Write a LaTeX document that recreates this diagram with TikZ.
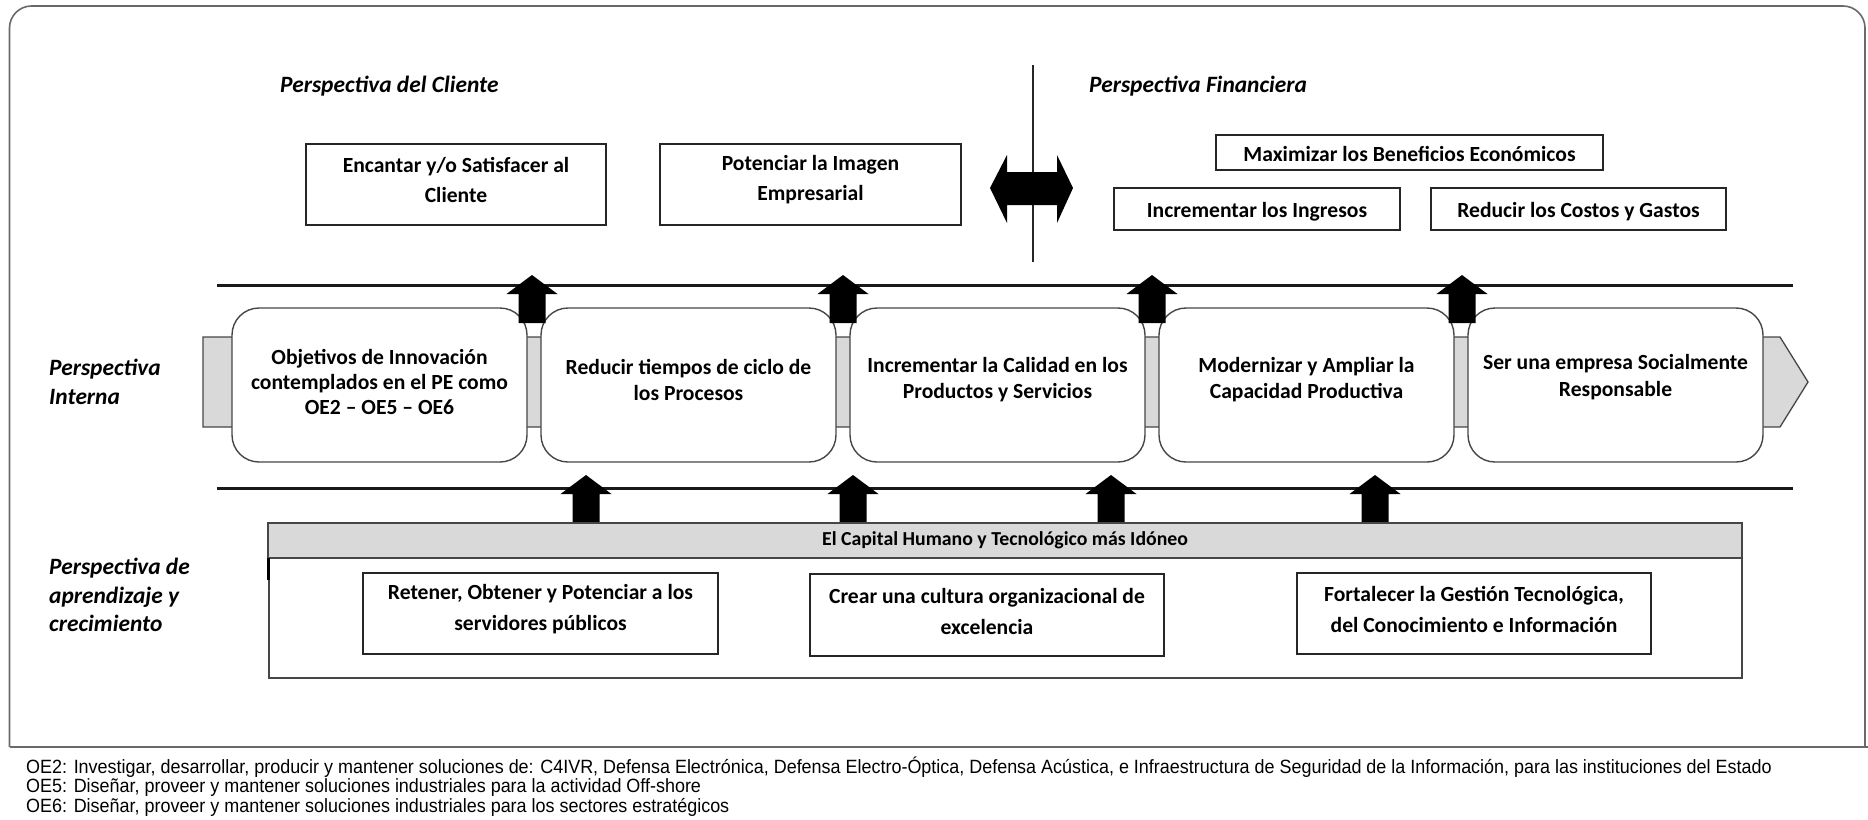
\documentclass[tikz,border=0pt]{standalone}
\usepackage{fontspec}
\setmainfont{Carlito}
\newfontfamily\notefont[FakeStretch=0.935]{Liberation Sans}
\definecolor{bandgray}{RGB}{217,217,217}
\definecolor{framegray}{RGB}{105,105,105}
\definecolor{edgegray}{RGB}{70,70,70}
\tikzset{
  hdr/.style={font=\bfseries\itshape\fontsize{23.4}{28.5}\selectfont, inner sep=0, align=left, anchor=west},
  boxtxt/.style={font=\bfseries\fontsize{21.6}{30}\selectfont, align=center, inner sep=0},
  lowtxt/.style={font=\bfseries\fontsize{21.6}{31}\selectfont, align=center, inner sep=0},
  roundtxt/.style={font=\bfseries\fontsize{21.6}{26}\selectfont, align=center, inner sep=0},
  plainbox/.style={draw=black!85, line width=1.6, fill=white, inner sep=0},
  procbox/.style={draw=edgegray, line width=1.4, fill=white, rounded corners=27,
    minimum width=295, minimum height=154, inner sep=0},
  mainline/.style={line width=3, black!90},
  notetxt/.style={font=\notefont\fontsize{19.2}{20}\selectfont, inner sep=0, anchor=west},
  pics/blockup/.style={code={
    \fill[black] (-13.5,48) -- (-13.5,19) -- (-25.5,19) -- (0,0) -- (25.5,19)
      -- (13.5,19) -- (13.5,48) -- cycle;}}
}
\begin{document}
\begin{tikzpicture}[x=1pt, y=-1pt]
\useasboundingbox (0,0) rectangle (1868,819);

% outer frame and footnote separator
\draw[framegray, line width=1.6, rounded corners=22] (9.5,747) -- (9.5,6) -- (1865,6) -- (1865,747);
\draw[framegray, line width=1.6] (9.5,747) -- (1868,747);

% perspective titles
\node[hdr] (pcli) at (280,86.5) {Perspectiva del Cliente};
\node[hdr] (pfin) at (1089,86.5) {Perspectiva Financiera};
\node[hdr] (pint) at (49,382) {Perspectiva\\Interna};
\node[hdr] (papr) at (49,595) {Perspectiva de\\aprendizaje y\\crecimiento};

% customer objectives
\node[plainbox, minimum width=300, minimum height=81] (enc) at (456,184.5) {};
\node[boxtxt] (enct) at ([yshift=5]enc.center) {Encantar y/o Satisfacer al\\Cliente};
\node[plainbox, minimum width=301, minimum height=81] (pot) at (810.5,184.5) {};
\node[boxtxt] (pott) at ([yshift=5]pot.center) {Potenciar la Imagen\\Empresarial};

% financial objectives
\node[plainbox, minimum width=387, minimum height=35] (max) at (1409.5,152.5) {};
\node[boxtxt] (maxt) at ([yshift=-1.5]max.center) {Maximizar los Beneficios Económicos};
\node[plainbox, minimum width=286, minimum height=42] (ing) at (1257,209) {};
\node[boxtxt] (ingt) at ([yshift=-2.5]ing.center) {Incrementar los Ingresos};
\node[plainbox, minimum width=295, minimum height=42] (cos) at (1578.5,209) {};
\node[boxtxt] (cost) at ([yshift=-2.5]cos.center) {Reducir los Costos y Gastos};

% divider between customer and financial views, with the two-way arrow
\coordinate (divtop) at (1033,65);
\coordinate (divbot) at (1033,262);
\draw[line width=2, black!85] (divtop) -- (divbot);
\fill[black] (990,188) -- (1007,155) -- (1007,172) -- (1057,172) -- (1057,155) -- (1073,188)
  -- (1057,223) -- (1057,205) -- (1007,205) -- (1007,223) -- cycle;

% horizontal rules around the internal perspective
\coordinate (ruleAl) at (217,285);
\coordinate (ruleAr) at (1793,285);
\coordinate (ruleBl) at (217,488);
\coordinate (ruleBr) at (1793,488);
\draw[mainline] (ruleAl) -- (ruleAr);
\draw[mainline] (ruleBl) -- (ruleBr);

% process band
\fill[bandgray, draw=edgegray, line width=1.3] (203,337) -- (1780,337) -- (1808,382) -- (1780,427) -- (203,427) -- cycle;

% internal process objectives
\node[procbox] (ri1) at (379.5,385) {};
\node[procbox] (ri2) at (688.5,385) {};
\node[procbox] (ri3) at (997.5,385) {};
\node[procbox] (ri4) at (1306.5,385) {};
\node[procbox] (ri5) at (1615.5,385) {};
\node[roundtxt, font=\bfseries\fontsize{21.6}{25}\selectfont] (ri1t) at ([yshift=3]ri1.center) {Objetivos de Innovación\\contemplados en el PE como\\OE2 – OE5 – OE6};
\node[roundtxt] (ri2t) at ([yshift=5]ri2.center) {Reducir tiempos de ciclo de\\los Procesos};
\node[roundtxt] (ri3t) at ([yshift=5]ri3.center) {Incrementar la Calidad en los\\Productos y Servicios};
\node[roundtxt] (ri4t) at ([yshift=5]ri4.center) {Modernizar y Ampliar la\\Capacidad Productiva};
\node[roundtxt, font=\bfseries\fontsize{21.6}{27}\selectfont] (ri5t) at ([yshift=7.5]ri5.center) {Ser una empresa Socialmente\\Responsable};

% upward block arrows
\pic (ua1) at (532,275) {blockup};
\pic (ua2) at (843,275) {blockup};
\pic (ua3) at (1152,275) {blockup};
\pic (ua4) at (1462,275) {blockup};
\pic (ub1) at (586,475) {blockup};
\pic (ub2) at (853,475) {blockup};
\pic (ub3) at (1111,475) {blockup};
\pic (ub4) at (1375,475) {blockup};

% learning and growth
\node[draw=edgegray, line width=1.5, fill=white, minimum width=1473, minimum height=120, inner sep=0] (lgbox) at (1005.5,618) {};
\node[draw=edgegray, line width=1.5, fill=bandgray, minimum width=1474, minimum height=35, inner sep=0] (lghead) at (1005,540.5) {};
\node[font=\bfseries\fontsize{19.8}{22}\selectfont, inner sep=0] (lgheadt) at (lghead.center) {El Capital Humano y Tecnológico más Idóneo};
\draw[line width=3, black] (268,558) -- (268,580);

\node[plainbox, minimum width=355, minimum height=81] (ret) at (540.5,613.5) {};
\node[lowtxt] (rett) at ([yshift=4]ret.center) {Retener, Obtener y Potenciar a los\\servidores públicos};
\node[plainbox, minimum width=354, minimum height=82] (cul) at (987,615) {};
\node[lowtxt] (cult) at ([yshift=4]cul.center) {Crear una cultura organizacional de\\excelencia};
\node[plainbox, minimum width=354, minimum height=81] (tec) at (1474,613.5) {};
\node[lowtxt] (tect) at ([yshift=4]tec.center) {Fortalecer la Gestión Tecnológica,\\del Conocimiento e Información};

% footnotes
\node[notetxt] (n1) at (26,767) {OE2: Investigar, desarrollar, producir y mantener soluciones de: C4IVR, Defensa Electrónica, Defensa Electro-Óptica, Defensa Acústica, e Infraestructura de Seguridad de la Información, para las instituciones del Estado};
\node[notetxt] (n2) at (26,788) {OE5: Diseñar, proveer y mantener soluciones industriales para la actividad Off-shore};
\node[notetxt] (n3) at (26,807) {OE6: Diseñar, proveer y mantener soluciones industriales para los sectores estratégicos};
\end{tikzpicture}
\end{document}
